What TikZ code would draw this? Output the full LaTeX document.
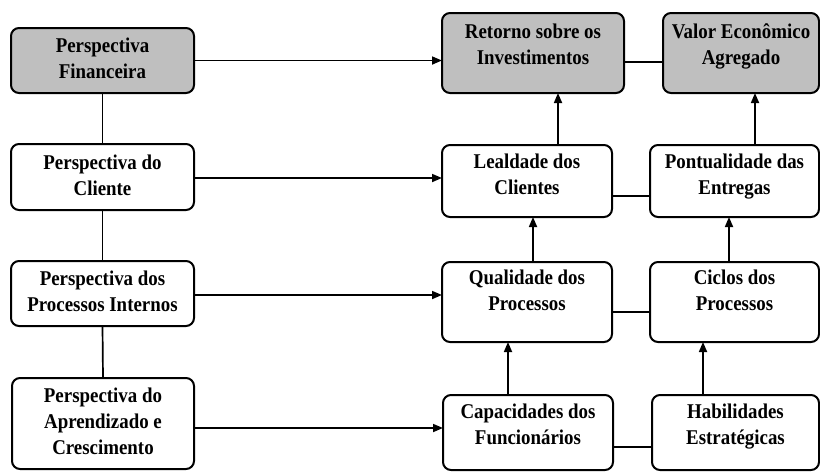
\documentclass[tikz,border=0pt]{standalone}
\usepackage{fontspec}
\setmainfont[FakeStretch=0.9]{Liberation Serif}
\usetikzlibrary{arrows.meta}
\newcommand\bxtxt[2]{\raisebox{#1}[0pt][0pt]{\begin{tabular}{@{}c@{}}#2\end{tabular}}}
\begin{document}
\begin{tikzpicture}[x=1pt,y=-1pt,
  bx/.style={draw=black, line width=2pt, rounded corners=8pt, fill=white,
    inner sep=0pt, outer sep=0pt, font=\bfseries\fontsize{21}{26}\selectfont},
  shaded/.style={fill=black!25},
  conn/.style={line width=1.7pt},
  arr/.style={line width=1.7pt, -{Triangle[length=10pt,width=8pt]}}]
\useasboundingbox (0,0) rectangle (820,472);
% left column
\node[bx,shaded,minimum width=183pt,minimum height=65pt] (fin) at (102.5,60.5) {\bxtxt{-5pt}{Perspectiva\\Financeira}};
\node[bx,minimum width=183pt,minimum height=66pt] (cli) at (102.5,177) {\bxtxt{-5pt}{Perspectiva do\\Cliente}};
\node[bx,minimum width=183pt,minimum height=65pt] (pro) at (102.5,293.5) {\bxtxt{-5pt}{Perspectiva dos\\Processos Internos}};
\node[bx,minimum width=182pt,minimum height=91pt] (apr) at (103,423.5) {\bxtxt{-5pt}{Perspectiva do\\Aprendizado e\\Crescimento}};
% right columns
\node[bx,shaded,minimum width=182pt,minimum height=80pt] (ret) at (533,53) {\bxtxt{2pt}{Retorno sobre os\\Investimentos}};
\node[bx,shaded,minimum width=156pt,minimum height=80pt] (val) at (741,53) {\bxtxt{2pt}{Valor Econ\^omico\\Agregado}};
\node[bx,minimum width=170pt,minimum height=72pt] (lea) at (527,181) {\bxtxt{0pt}{Lealdade dos\\Clientes}};
\node[bx,minimum width=169pt,minimum height=72pt] (pon) at (734.5,181) {\bxtxt{0pt}{Pontualidade das\\Entregas}};
\node[bx,minimum width=170pt,minimum height=80pt] (qua) at (527,302) {\bxtxt{4.5pt}{Qualidade dos\\Processos}};
\node[bx,minimum width=169pt,minimum height=80pt] (cic) at (734.5,302) {\bxtxt{4.5pt}{Ciclos dos\\Processos}};
\node[bx,minimum width=170pt,minimum height=75pt] (cap) at (528,432.5) {\bxtxt{1pt}{Capacidades dos\\Funcion\'arios}};
\node[bx,minimum width=167pt,minimum height=75pt] (hab) at (735.5,432.5) {\bxtxt{1pt}{Habilidades\\Estrat\'egicas}};
% left vertical connectors
\draw[conn] (fin.south) -- (cli.north);
\draw[conn] (cli.south) -- (pro.north);
\draw[conn] (pro.south) -- (apr.north);
% horizontal arrows from perspectives
\draw[arr] (fin.east) -- (fin.east -| ret.west);
\draw[arr] ([yshift=-1pt]cli.east) -- ([yshift=-1pt]cli.east -| lea.west);
\draw[arr] ([yshift=-1.5pt]pro.east) -- ([yshift=-1.5pt]pro.east -| qua.west);
\draw[arr] ([yshift=-4.5pt]apr.east) -- ([yshift=-4.5pt]apr.east -| cap.west);
% right horizontal connectors
\draw[conn] ([yshift=-9pt]ret.east) -- ([yshift=-9pt]ret.east -| val.west);
\draw[conn] ([yshift=-15pt]lea.east) -- ([yshift=-15pt]lea.east -| pon.west);
\draw[conn] ([yshift=-10pt]qua.east) -- ([yshift=-10pt]qua.east -| cic.west);
\draw[conn] ([yshift=-14.5pt]cap.east) -- ([yshift=-14.5pt]cap.east -| hab.west);
% vertical arrows
\draw[arr] ([xshift=31pt]lea.north) -- ([xshift=31pt]lea.north |- ret.south);
\draw[arr] ([xshift=20.5pt]pon.north) -- ([xshift=20.5pt]pon.north |- val.south);
\draw[arr] ([xshift=6pt]qua.north) -- ([xshift=6pt]qua.north |- lea.south);
\draw[arr] ([xshift=-5.5pt]cic.north) -- ([xshift=-5.5pt]cic.north |- pon.south);
\draw[arr] ([xshift=-20pt]cap.north) -- ([xshift=-20pt]cap.north |- qua.south);
\draw[arr] ([xshift=-32.5pt]hab.north) -- ([xshift=-32.5pt]hab.north |- cic.south);
\end{tikzpicture}
\end{document}
